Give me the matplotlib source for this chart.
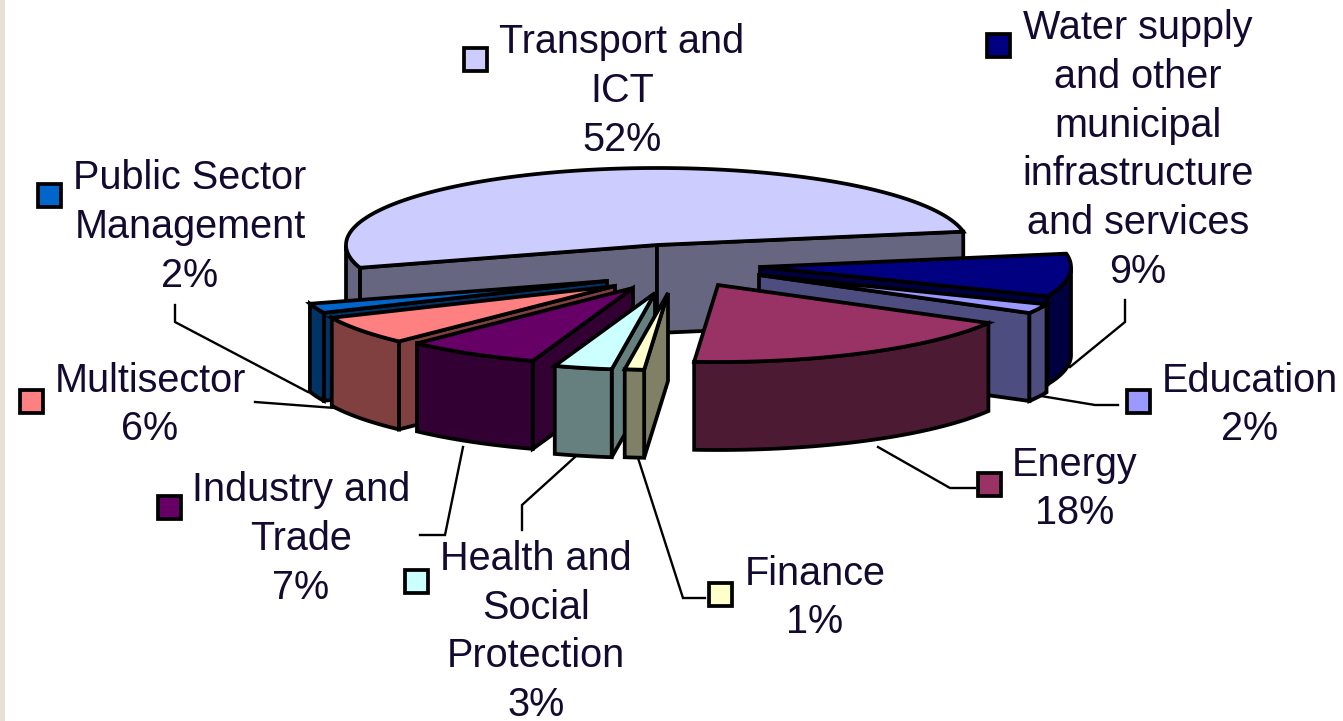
#!/usr/bin/env python3
"""Exploded 3D-look pie of project shares by sector, drawn with plain polygons in pixel coords."""
import numpy as np
import matplotlib; matplotlib.use("Agg"); import matplotlib.pyplot as plt
from matplotlib.patches import Polygon, Rectangle
from matplotlib.colors import to_rgb

# data, clockwise from the back right of the pie
sectors = ["Water supply\nand other\nmunicipal\ninfrastructure\nand services", "Education", "Energy", "Finance",
           "Health and\nSocial\nProtection", "Industry and\nTrade", "Multisector", "Public Sector\nManagement", "Transport and\nICT"]
shares = [9, 2, 18, 1, 3, 7, 6, 2, 52]
colors = ["#000080", "#9999FF", "#993366", "#FFFFCC", "#CCFFFF", "#660066", "#FF8080", "#0066CC", "#CCCCFF"]

# layout, pixels
W, H = 1343, 721
CX, CY, RX, RY, DEPTH = 657, 245, 311, 77, 88
START = 10  # degrees
offsets = [(103, 22), (102, 30), (61, 40), (11, 48), (-2, 48), (-24, 43), (-42, 41), (-50, 36), (0, 0)]
draw_order = [8, 7, 6, 5, 4, 3, 0, 1, 2]
label_xy = [(1138, 150), (1250, 405), (1075, 489), (815, 598), (536, 632), (301, 539), (150, 405), (190, 227), (622, 91)]
swatch_xy = [(987, 34), (1127, 390), (978, 473), (709, 583), (405, 570), (158, 496), (20, 390), (38, 184), (464, 48)]
leaders = [[(1070, 367), (1125, 322), (1125, 300)], [(1035, 395), (1095, 405), (1118, 405)], [(878, 447), (950, 488), (975, 488)],
           [(638, 458), (683, 598), (705, 598)], [(575, 457), (522, 505), (522, 530)], [(463, 447), (445, 535), (420, 535)],
           [(255, 402), (335, 408), (398, 428)], [(175, 305), (175, 322), (308, 392)]]
LW = 2.7

plt.rcParams["font.family"] = ["Liberation Sans", "DejaVu Sans"]
fig = plt.figure(figsize=(W / 100, H / 100), dpi=100, facecolor="white")
ax = fig.add_axes([0, 0, 1, 1]); ax.set_xlim(0, W); ax.set_ylim(H, 0); ax.axis("off")
ax.add_patch(Rectangle((0, 0), 5, H, fc="#E6E0D5", ec="none"))

def poly(pts, fc):
    ax.add_patch(Polygon(pts, closed=True, fc=fc, ec="black", lw=LW, joinstyle="miter"))

def wedge(a0, a1, off, col):
    dark = tuple(c * 0.5 for c in to_rgb(col))
    t = np.radians(np.linspace(a0, a1, 400))
    rim = np.column_stack([CX + off[0] + RX * np.cos(t), CY + off[1] - RY * np.sin(t)])
    apex = np.array([CX + off[0], CY + off[1]])
    down = np.array([0, DEPTH])
    mid = rim[200]
    # cut faces, only the ones turned to the viewer
    for p in (rim[0], rim[-1]):
        d = p - apex
        at_mid = apex[1] + d[1] * (mid[0] - apex[0]) / d[0] if d[0] else mid[1]
        if mid[1] < at_mid:
            poly([apex, p, p + down, apex + down], dark)
    front = rim[np.sin(t) < 0]
    if len(front):
        poly(np.vstack([front, front[::-1] + down]), dark)
    poly(np.vstack([apex, rim]), col)

angles = START - np.cumsum([0] + shares) * 3.6
for i in draw_order:
    wedge(angles[i], angles[i + 1], offsets[i], colors[i])

for pts in leaders:
    ax.plot(*zip(*pts), color="black", lw=1.7, zorder=0.5, solid_joinstyle="miter")

for name, share, col, (lx, ly), (sx, sy) in zip(sectors, shares, colors, label_xy, swatch_xy):
    ax.text(lx, ly, f"{name}\n{share}%", ha="center", va="center", ma="center", fontsize=28.5, linespacing=1.357, color="#140A30")
    ax.add_patch(Rectangle((sx, sy), 23, 23, fc=col, ec="black", lw=LW))

fig.savefig("out.png", dpi=100)
